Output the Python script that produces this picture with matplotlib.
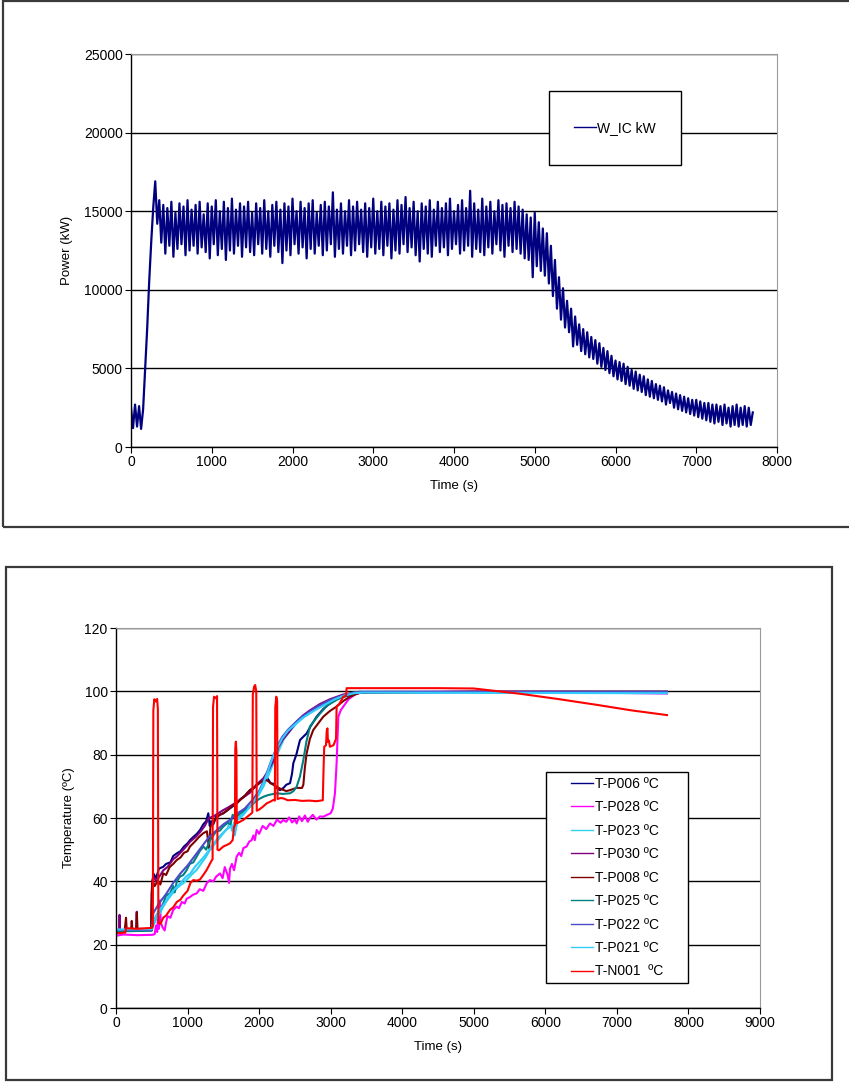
import numpy as np
import matplotlib
matplotlib.use('Agg')
import matplotlib.pyplot as plt
from matplotlib.patches import Rectangle

plt.rcParams['font.family'] = ['Liberation Sans', 'DejaVu Sans']
plt.rcParams['font.size'] = 10

# --- top chart: reactor power, sampled every 25 s ---
power_kw = [
    # 0 - 375 s
    2500, 1200, 2700, 1300, 2600, 1150, 2400, 5000, 7500, 10500, 13000, 15200, 16900, 14200, 15700, 13000,
    # 400 - 4800 s
    15400, 12300, 15200, 12800, 15600, 12100, 14900, 12600, 15500, 12900,
    15300, 12200, 15700, 12500, 15100, 12800, 15400, 12300, 15600, 12700,
    14800, 12400, 15500, 12000, 15300, 12900, 15700, 12200, 15000, 12600,
    15600, 11900, 15200, 12500, 15800, 12300, 15100, 12800, 15500, 12100,
    15300, 12700, 15600, 12400, 14900, 12200, 15500, 12900, 15200, 12300,
    15700, 12600, 15000, 12100, 15400, 12800, 15600, 12400, 15100, 11700,
    15500, 12500, 15300, 12200, 15800, 12900, 15000, 12300, 15600, 12700,
    15200, 12000, 15500, 12600, 15700, 12300, 14900, 12800, 15400, 12200,
    15600, 12500, 15300, 12900, 16200, 12100, 15100, 12600, 15500, 12300,
    15000, 12800, 15700, 12200, 15300, 12500, 15600, 12900, 15100, 12400,
    15500, 12100, 15200, 12700, 15800, 12300, 15000, 12600, 15600, 12200,
    15300, 12800, 15500, 12000, 15100, 12500, 15700, 12300, 15400, 12900,
    15900, 12400, 15200, 12700, 15600, 12200, 15000, 11800, 15500, 12600,
    15300, 12300, 15700, 12100, 15100, 12800, 15600, 12400, 15200, 12700,
    15500, 12200, 15800, 12600, 15000, 12900, 15400, 12300, 15700, 12500,
    15200, 12800, 16300, 12100, 15500, 12600, 15100, 12400, 15800, 12200,
    15300, 12700, 15600, 12300, 15000, 12900, 15700, 12500, 15400, 12100,
    15500, 12800, 15200, 12400, 15600, 12600, 15300,
    # 4825 - 7700 s
    12300, 15100, 12000, 14800, 11900, 14600, 10800, 14900,
    11500, 14300, 11200, 13900, 10900, 13600, 10400, 12800,
    9600, 11900, 8800, 10800, 8100, 10100, 7600, 9300,
    7300, 8800, 6400, 8300, 6500, 7800, 6100, 7500,
    5900, 7300, 5700, 7000, 5600, 6800, 5300, 6600,
    5100, 6300, 4900, 6100, 4700, 5800, 4500, 5500,
    4300, 5400, 4200, 5300, 4000, 5100, 3900, 4900,
    3700, 4800, 3600, 4600, 3500, 4500, 3300, 4300,
    3200, 4200, 3100, 4000, 3000, 3900, 2900, 3800,
    2700, 3600, 2800, 3500, 2500, 3400, 2400, 3300,
    2300, 3200, 2200, 3100, 2100, 3000, 2000, 3000,
    1900, 2900, 1800, 2800, 1700, 2800, 1600, 2700,
    1500, 2700, 1600, 2600, 1400, 2700, 1500, 2500,
    1300, 2600, 1400, 2700, 1300, 2500, 1400, 2600,
    1300, 2500, 1400, 2200,
]
power_t = np.arange(len(power_kw)) * 25

# --- bottom chart: temperatures (time s, value degC) ---
t_p006 = [0, 300, 495, 505, 522, 560, 600, 661, 700, 760, 800, 848, 900, 950, 1000, 1034, 1080, 1130, 1174,
          1220, 1260, 1290, 1310, 1330, 1360, 1400, 1450, 1500, 1560, 1620, 1686, 1740, 1800, 1872, 1930,
          2000, 2059, 2120, 2160, 2199, 2240, 2292, 2340, 2380, 2432, 2460, 2478, 2520, 2571, 2610, 2664,
          2720, 2804, 2900, 2990, 3100, 3270, 3450, 5000, 7700]
v_p006 = [24.5, 24.6, 24.8, 38, 42.5, 41, 44, 44.6, 45.5, 46, 48, 48.8, 49.5, 51, 52, 53, 54, 55, 56.2,
          58, 59, 61.5, 57.5, 59, 58, 60.5, 61, 61.5, 62.5, 63.5, 64.6, 66, 67, 68.8, 69.5,
          71, 72, 72.5, 71, 70.8, 69.5, 68.8, 69.5, 70.5, 71, 74, 77.3, 80, 84.6, 85.5, 86.7,
          89, 92, 94.5, 96.2, 97.8, 98.8, 99.7, 99.8, 99.8]

t_p028 = [0, 100, 300, 500, 540, 560, 575, 590, 600, 615, 625, 650, 680, 700, 720, 760, 800, 848, 880, 920,
          960, 987, 1030, 1080, 1127, 1170, 1220, 1270, 1313, 1360, 1400, 1453, 1490, 1520, 1560, 1580,
          1593, 1620, 1650, 1686, 1720, 1750, 1780, 1826, 1860, 1896, 1920, 1940, 1966, 2000, 2050, 2100,
          2152, 2200, 2250, 2300, 2338, 2380, 2420, 2460, 2500, 2525, 2560, 2600, 2640, 2680, 2711, 2750,
          2800, 2850, 2897, 2950, 3000, 3030, 3060, 3083, 3107, 3140, 3177, 3250, 3350, 3450, 5000, 6500,
          7000, 7700]
v_p028 = [22.8, 23.2, 23.0, 23.1, 23.3, 26, 24, 30, 25, 34, 27, 25.5, 24.5, 27, 29, 28.5, 31, 32, 31.5, 33.5,
          33, 34.5, 35, 35.8, 36.2, 37.5, 37, 39.5, 40.4, 40, 41.5, 42.5, 41, 44.5, 42, 39.5,
          44, 45.5, 43.5, 47.8, 49, 48, 50.5, 51, 52.5, 53, 54.5, 53, 56.2, 55, 57.5, 56.5,
          58.3, 57.5, 59.5, 58.5, 59.4, 58.8, 60.2, 58.6, 59.5, 58.3, 60.5, 59, 60.8, 58.8, 60, 61,
          59.5, 60.5, 60.4, 61, 61.5, 63, 67.8, 77.3, 92, 94, 95.2, 97.5, 99.2, 99.8, 99.9, 99.8,
          99.5, 99.3]

t_p023 = [0, 300, 500, 522, 560, 615, 660, 700, 755, 800, 850, 900, 940, 1000, 1060, 1127, 1180, 1250, 1313,
          1380, 1440, 1500, 1560, 1600, 1620, 1650, 1686, 1750, 1810, 1872, 1940, 2000, 2059, 2130, 2199,
          2270, 2338, 2430, 2525, 2620, 2711, 2830, 2944, 3060, 3177, 3300, 3410, 7700]
v_p023 = [24.5, 24.4, 24.6, 26, 28, 30, 32, 33.5, 35.2, 36.5, 37.8, 38.8, 39.4, 40.8, 42.2, 43.6, 45.3, 47.5, 49.9,
          51.8, 53.5, 55.2, 56.8, 59.5, 56, 58.5, 59.4, 60.8, 62.2, 63.6, 65.5, 67.5, 69.9, 73.5, 77.3,
          81, 84.6, 87.5, 89.9, 91.8, 93.1, 94.8, 96.2, 97.6, 98.8, 99.5, 99.9, 99.6]

t_p030 = [0, 45, 50, 55, 280, 290, 296, 495, 503, 520, 560, 620, 661, 720, 800, 848, 920, 1000, 1034, 1113,
          1174, 1240, 1300, 1360, 1430, 1500, 1580, 1686, 1780, 1872, 1960, 2059, 2130, 2199, 2270, 2338,
          2430, 2525, 2620, 2711, 2850, 2990, 3177, 3400, 7700]
v_p030 = [24.3, 24.5, 29.4, 24.6, 24.6, 30.4, 25, 25, 39, 41.5, 40, 42, 43.5, 44.5, 47, 47.8, 49.5, 51.5, 52.5, 54,
          55.5, 57.5, 60, 60.5, 61.5, 62.5, 63.5, 65, 66.5, 68, 70.5, 72.5, 75, 78, 82.5, 85,
          87.5, 90.5, 92.5, 94, 96, 97.5, 99, 99.8, 99.8]

t_p008 = [0, 120, 140, 150, 210, 220, 230, 285, 292, 300, 490, 498, 510, 540, 580, 620, 661, 700, 750, 800,
          848, 900, 950, 1000, 1034, 1100, 1160, 1220, 1270, 1300, 1320, 1360, 1400, 1450, 1500, 1560, 1620,
          1686, 1750, 1800, 1872, 1950, 2030, 2105, 2160, 2245, 2300, 2380, 2432, 2520, 2600, 2618, 2640,
          2664, 2710, 2757, 2830, 2897, 2990, 3083, 3180, 3270, 3400, 5000, 7700]
v_p008 = [24.0, 24.2, 28.5, 24.5, 24.3, 27.5, 24.3, 24.6, 30, 24.5, 24.6, 36, 40.4, 38.5, 40, 39, 42.5, 42, 44.5, 45.5,
          46.7, 47.5, 49, 49.5, 51, 52.5, 54, 55.2, 55.8, 50.5, 57.3, 58.5, 60, 61, 61.5, 62.5, 63.8,
          64.6, 66, 67, 68.8, 70, 71.5, 72, 71, 69.9, 69.2, 68.5, 68.8, 69.5, 69.5, 70.5, 76,
          80.4, 85, 87.8, 90, 92, 93.8, 95.2, 97, 98.3, 99.5, 99.9, 99.9]

t_p025 = [0, 500, 522, 560, 615, 660, 700, 755, 800, 820, 850, 894, 940, 987, 1030, 1080, 1127, 1170, 1220,
          1260, 1313, 1360, 1400, 1450, 1500, 1560, 1600, 1630, 1686, 1740, 1800, 1872, 1940, 2000, 2059,
          2120, 2180, 2245, 2330, 2432, 2480, 2525, 2570, 2618, 2660, 2711, 2780, 2851, 2950, 3083, 3200,
          3316, 3450, 7700]
v_p025 = [24.2, 24.4, 27, 29, 31, 33, 35.5, 36.2, 38.5, 36.5, 40, 41.5, 42, 43.5, 45.5, 46, 47.8, 49.5, 51,
          50, 53, 54.5, 55.8, 56, 57.3, 58.5, 58, 61, 60.4, 61.5, 62.5, 63.6, 65, 66, 66.7,
          67.2, 67.5, 67.8, 67.6, 67.8, 68.5, 69.9, 73, 78.3, 84, 88.9, 91, 93, 95.5, 97.3, 98.5,
          99.4, 99.7, 99.6]

t_p022 = [0, 500, 522, 600, 700, 800, 900, 1000, 1100, 1200, 1300, 1400, 1500, 1600, 1700, 1800, 1900, 2000,
          2080, 2160, 2240, 2320, 2400, 2500, 2600, 2700, 2800, 2950, 3100, 3250, 3400, 7700]
v_p022 = [24.6, 24.7, 30, 33, 36, 39.5, 42.5, 45, 48, 51, 54, 56, 58, 59.5, 61.5, 63, 65.5, 68.5,
          72.5, 77.5, 82, 85.5, 87.8, 90, 92, 93.5, 95, 96.8, 98.2, 99.2, 99.8, 99.9]

t_p021 = [0, 500, 525, 570, 630, 680, 740, 800, 860, 920, 980, 1040, 1100, 1160, 1220, 1290, 1350, 1420, 1480,
          1550, 1620, 1660, 1700, 1780, 1850, 1920, 1990, 2060, 2120, 2180, 2250, 2320, 2400, 2500, 2600,
          2700, 2800, 2920, 3050, 3180, 3320, 3450, 7700]
v_p021 = [24.8, 24.9, 27, 29.5, 31.5, 33, 35.5, 37, 38.5, 40, 41.5, 42.5, 44.5, 46, 47.5, 49.5, 51.5, 53.5, 55,
          56.5, 57.5, 54.5, 59.5, 61, 63, 65, 67.5, 71, 74.5, 78.5, 82, 85, 87.5, 89.5, 91.5,
          93, 94.3, 95.8, 97.4, 98.6, 99.4, 99.6, 99.4]

t_n001 = [0, 130, 140, 300, 500, 515, 522, 535, 555, 575, 585, 592, 620, 660, 700, 755, 800, 850, 900, 940,
          1000, 1040, 1080, 1130, 1174, 1220, 1267, 1300, 1340, 1350, 1356, 1370, 1395, 1412, 1418, 1440,
          1500, 1550, 1593, 1630, 1650, 1662, 1667, 1675, 1683, 1688, 1730, 1780, 1840, 1896, 1905, 1912,
          1930, 1945, 1960, 1967, 1990, 2050, 2105, 2160, 2199, 2220, 2226, 2240, 2252, 2258, 2300, 2338,
          2400, 2500, 2600, 2700, 2800, 2890, 2900, 2910, 2935, 2945, 2955, 2962, 2975, 2990, 3040, 3075,
          3083, 3120, 3177, 3215, 3223, 3500, 4000, 4500, 5000, 5659, 6200, 6729, 7200, 7700]
v_n001 = [23.6, 23.8, 25.2, 25.0, 25.3, 26, 94, 97.5, 96.8, 97.6, 94.5, 27, 26.5, 28.5, 29.2, 31, 31.8, 33.5, 34.2, 35.5,
          37, 39.5, 40.4, 40.2, 40.6, 42, 43.6, 45, 46.7, 47, 95, 98.3, 97.8, 98.5, 50, 49.8,
          51, 51.5, 52, 53, 57.3, 57.5, 82, 84.1, 81, 58.3, 58.8, 59.4, 60.5, 61.5, 61.8, 99,
          101.5, 102, 100, 62.3, 62.5, 63.5, 64.6, 65.2, 65.7, 65.5, 95, 98.3, 97, 66, 66.3, 66.2,
          65.6, 65.7, 65.4, 65.5, 65.3, 65.6, 75, 82.5, 83, 87.5, 88.3, 84, 84.5, 82.5, 83, 85,
          95.2, 96, 98.3, 98.6, 101, 101, 101, 101, 100.9, 99.2, 97.5, 95.7, 94, 92.5]

temp_series = [
    ('T-P006 ºC', t_p006, v_p006, '#000080'),
    ('T-P028 ºC', t_p028, v_p028, '#FF00FF'),
    ('T-P023 ºC', t_p023, v_p023, '#2ED3EE'),
    ('T-P030 ºC', t_p030, v_p030, '#800080'),
    ('T-P008 ºC', t_p008, v_p008, '#800000'),
    ('T-P025 ºC', t_p025, v_p025, '#008080'),
    ('T-P022 ºC', t_p022, v_p022, '#4B4BC8'),
    ('T-P021 ºC', t_p021, v_p021, '#33CCFF'),
    ('T-N001  ºC', t_n001, v_n001, '#FF0000'),
]

W, H = 849, 1083
fig = plt.figure(figsize=(W / 100, H / 100), dpi=100)


def px_axes(x0, y0, x1, y1):
    return fig.add_axes([x0 / W, 1 - y1 / H, (x1 - x0) / W, (y1 - y0) / H])


def style_axes(ax):
    for s in ['left', 'bottom']:
        ax.spines[s].set_color('black')
        ax.spines[s].set_linewidth(1.0)
    for s in ['top', 'right']:
        ax.spines[s].set_color('#9a9a9a')
        ax.spines[s].set_linewidth(0.8)
    ax.tick_params(direction='out', length=4, width=0.8, labelsize=10, pad=2)
    ax.yaxis.grid(True, color='black', linewidth=1.0)
    ax.set_axisbelow(True)


# frames around the two charts
fig.add_artist(Rectangle((3 / W, 1 - 527 / H), 850 / W, 526 / H, transform=fig.transFigure,
                         fill=False, edgecolor='#3a3a3a', linewidth=1.6))
fig.add_artist(Rectangle((6 / W, 1 - 1080 / H), 826 / W, 513 / H, transform=fig.transFigure,
                         fill=False, edgecolor='#3a3a3a', linewidth=1.6))

# top chart
ax1 = px_axes(131, 54, 777, 447)
style_axes(ax1)
ax1.plot(power_t, power_kw, color='#000080', linewidth=1.6, label='W_IC kW')
ax1.set_xlim(0, 8000)
ax1.set_ylim(0, 25000)
ax1.set_xticks(range(0, 8001, 1000))
ax1.set_yticks(range(0, 25001, 5000))
ax1.set_xlabel('Time (s)', fontsize=9.5, labelpad=8)
ax1.set_ylabel('Power (kW)', fontsize=9.5, labelpad=8)
ax1.add_patch(Rectangle((0.6471, 0.7176), 0.2043, 0.1883, transform=ax1.transAxes,
                        facecolor='white', edgecolor='black', linewidth=1.0, zorder=4, clip_on=False))
leg1 = ax1.legend(loc='center', bbox_to_anchor=(0.749, 0.812), frameon=False, fontsize=10,
                  handlelength=1.6, handletextpad=0.1)
for line in leg1.get_lines():
    line.set_linewidth(1.0)

# bottom chart
ax2 = px_axes(116, 628, 760, 1008)
style_axes(ax2)
for name, t, v, c in temp_series:
    ax2.plot(t, v, color=c, linewidth=1.5, label=name)
ax2.set_xlim(0, 9000)
ax2.set_ylim(0, 120)
ax2.set_xticks(range(0, 9001, 1000))
ax2.set_yticks(range(0, 121, 20))
ax2.set_xlabel('Time (s)', fontsize=9.5, labelpad=8)
ax2.set_ylabel('Temperature (ºC)', fontsize=9.5, labelpad=7)
ax2.add_patch(Rectangle((0.6677, 0.0658), 0.2205, 0.5553, transform=ax2.transAxes,
                        facecolor='white', edgecolor='black', linewidth=1.0, zorder=4, clip_on=False))
leg2 = ax2.legend(loc='center', bbox_to_anchor=(0.778, 0.343), frameon=False, fontsize=10,
                  handlelength=1.6, handletextpad=0.15, labelspacing=0.68)
for line in leg2.get_lines():
    line.set_linewidth(1.0)

fig.savefig('out.png', dpi=100)
